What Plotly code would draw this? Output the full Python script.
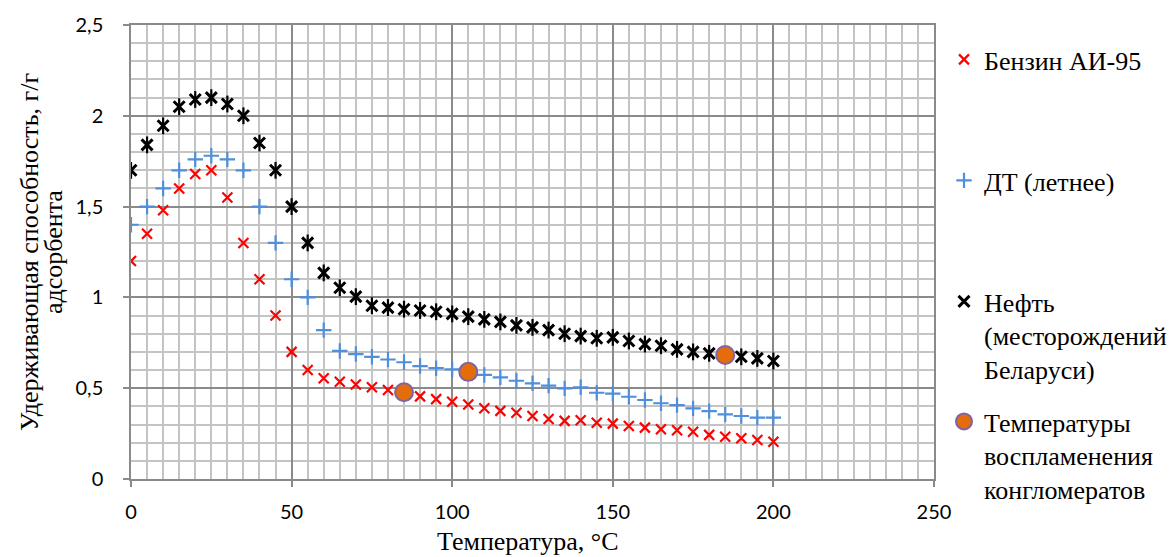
import plotly.graph_objects as go

temps = [0, 5, 10, 15, 20, 25, 30, 35, 40, 45, 50, 55, 60, 65, 70, 75, 80, 85, 90, 95, 100,
         105, 110, 115, 120, 125, 130, 135, 140, 145, 150, 155, 160, 165, 170, 175, 180, 185, 190, 195, 200]

benzin = [1.20, 1.35, 1.48, 1.60, 1.68, 1.70, 1.55, 1.30, 1.10, 0.90, 0.70, 0.60, 0.555, 0.535, 0.52, 0.505,
          0.49, 0.475, 0.455, 0.44, 0.425, 0.41, 0.39, 0.375, 0.365, 0.347, 0.33, 0.32, 0.324, 0.31, 0.305,
          0.292, 0.283, 0.274, 0.268, 0.26, 0.243, 0.233, 0.224, 0.215, 0.205]

dt = [1.40, 1.50, 1.60, 1.70, 1.76, 1.78, 1.76, 1.70, 1.50, 1.30, 1.10, 1.00, 0.82, 0.705, 0.688, 0.673,
      0.658, 0.643, 0.622, 0.61, 0.604, 0.59, 0.573, 0.56, 0.541, 0.527, 0.514, 0.499, 0.505, 0.475, 0.47,
      0.453, 0.435, 0.417, 0.407, 0.389, 0.374, 0.356, 0.347, 0.338, 0.338]

neft = [1.70, 1.84, 1.945, 2.05, 2.09, 2.10, 2.065, 2.00, 1.85, 1.70, 1.50, 1.30, 1.135, 1.053, 1.004, 0.954,
        0.944, 0.935, 0.928, 0.921, 0.909, 0.894, 0.879, 0.865, 0.846, 0.835, 0.82, 0.80, 0.787, 0.775, 0.78,
        0.76, 0.743, 0.734, 0.714, 0.70, 0.692, 0.683, 0.673, 0.664, 0.65]

ign_t = [85, 105, 185]
ign_v = [0.478, 0.59, 0.683]

names = ["Бензин АИ-95", "ДТ (летнее)", "Нефть<br>(месторождений<br>Беларуси)",
         "Температуры<br>воспламенения<br>конгломератов"]

x_ticks = [0, 50, 100, 150, 200, 250]
y_ticks = [0, 0.5, 1, 1.5, 2, 2.5]
y_ticktext = ["0", "0,5", "1", "1,5", "2", "2,5"]

serif = "Liberation Serif"
sans = "Lato"
LF = 26
W, H = 1172, 557

fig = go.Figure()
fig.add_trace(go.Scatter(x=temps, y=benzin, mode="markers", name=names[0], legend="legend",
                         marker=dict(symbol="x-thin", size=10, color="#FF0000",
                                     line=dict(color="#FF0000", width=2.2))))
fig.add_trace(go.Scatter(x=temps, y=dt, mode="markers", name=names[1], legend="legend2",
                         marker=dict(symbol="cross-thin", size=11, color="#4F8FDB",
                                     line=dict(color="#4F8FDB", width=2.2))))
fig.add_trace(go.Scatter(x=temps, y=neft, mode="markers", name=names[2], legend="legend3",
                         legendgroup="neft",
                         marker=dict(symbol="x-thin", size=11, color="#000000",
                                     line=dict(color="#000000", width=3))))
fig.add_trace(go.Scatter(x=temps, y=neft, mode="markers", name=names[2], legend="legend3",
                         legendgroup="neft", showlegend=False,
                         marker=dict(symbol="line-ns", size=12, color="#000000",
                                     line=dict(color="#000000", width=2.2))))
fig.add_trace(go.Scatter(x=ign_t, y=ign_v, mode="markers", name=names[3], legend="legend4",
                         marker=dict(symbol="circle", size=18, color="#E46C0A",
                                     line=dict(color="#8064A2", width=2))))

major = "#8A8A8A"
minorc = "#C4C4C4"

fig.update_xaxes(range=[0, 250], tickvals=x_ticks, ticktext=[str(v) for v in x_ticks],
                 showgrid=True, gridcolor=major, gridwidth=1.5,
                 minor=dict(dtick=5, tick0=0, showgrid=True, gridcolor=minorc, gridwidth=1.5),
                 showline=True, linecolor=major, linewidth=1.5, mirror=True,
                 ticks="outside", ticklen=6, tickcolor=major, tickwidth=1.5,
                 ticklabelstandoff=8,
                 tickfont=dict(family=sans, size=20, color="#000000"), zeroline=False)
fig.update_yaxes(range=[0, 2.5], tickvals=y_ticks, ticktext=y_ticktext,
                 showgrid=True, gridcolor=major, gridwidth=1.5,
                 minor=dict(dtick=0.1, tick0=0, showgrid=True, gridcolor=minorc, gridwidth=1.5),
                 showline=True, linecolor=major, linewidth=1.5, mirror=True,
                 ticks="outside", ticklen=6, tickcolor=major, tickwidth=1.5,
                 ticklabelstandoff=16,
                 tickfont=dict(family=sans, size=20, color="#000000"), zeroline=False)

def leg(top_px):
    return dict(xref="container", yref="container", x=944 / W, xanchor="left",
                y=1 - top_px / H, yanchor="top", bgcolor="rgba(0,0,0,0)",
                borderwidth=0, font=dict(family=serif, size=LF, color="#000000"),
                itemwidth=30, valign="top", tracegroupgap=0)

fig.update_layout(
    width=W, height=H,
    margin=dict(l=131, r=238, t=25, b=78, autoexpand=False),
    paper_bgcolor="white", plot_bgcolor="white",
    showlegend=True,
    legend=leg(36),
    legend2=leg(157),
    legend3=leg(278),
    legend4=leg(398),
    annotations=[
        dict(text="Температура, °C", xref="paper", yref="paper", x=0.494, y=(479 - 541) / 454,
             xanchor="center", yanchor="middle", showarrow=False,
             font=dict(family=serif, size=LF, color="#000000")),
        dict(text="Удерживающая способность, г/г", xref="paper", yref="paper",
             x=(29 - 131) / 803, y=(479 - 252) / 454, textangle=-90,
             xanchor="center", yanchor="middle", showarrow=False,
             font=dict(family=serif, size=LF, color="#000000")),
        dict(text="адсорбента", xref="paper", yref="paper",
             x=(53 - 131) / 803, y=(479 - 252) / 454, textangle=-90,
             xanchor="center", yanchor="middle", showarrow=False,
             font=dict(family=serif, size=LF, color="#000000")),
    ],
)

fig.write_html("out.html", config={"displayModeBar": False},
               post_script="document.body.style.margin='0';document.body.style.overflow='hidden';")
